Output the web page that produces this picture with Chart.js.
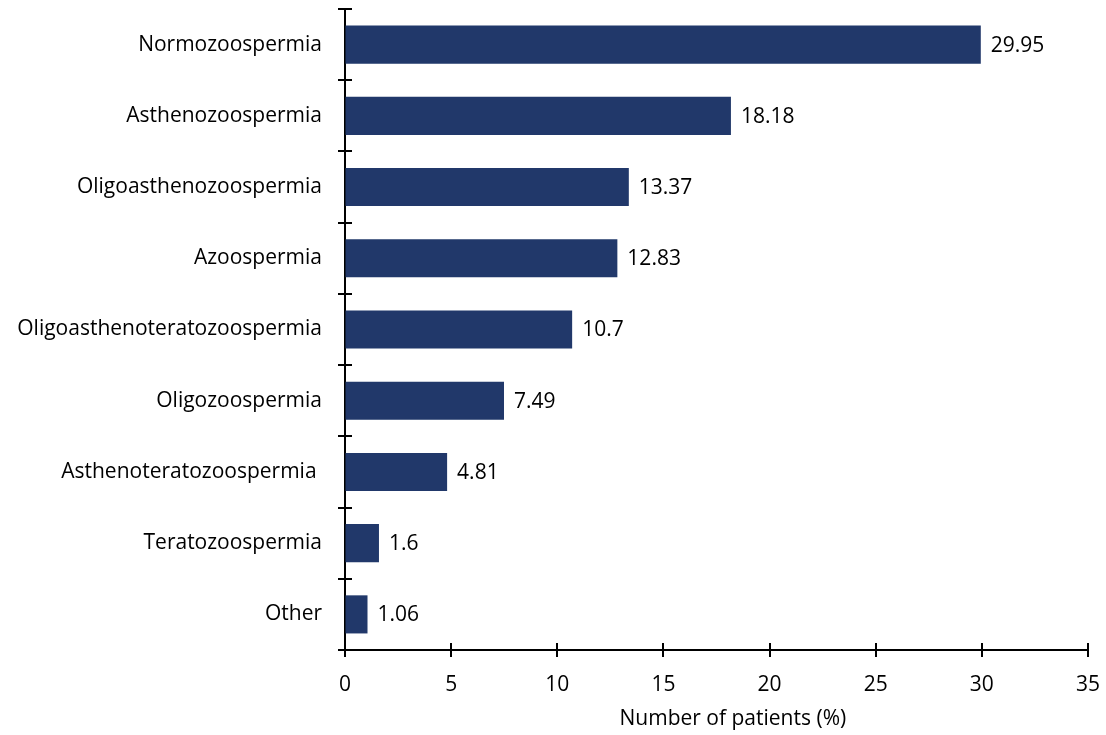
<!DOCTYPE html>
<html>
<head>
<meta charset="utf-8">
<script src="https://cdn.jsdelivr.net/npm/chart.js@4.4.1/dist/chart.umd.min.js"></script>
<style>
  html, body { margin: 0; padding: 0; background: #ffffff; }
  #wrap { width: 1106px; height: 735px; position: relative; }
</style>
</head>
<body>
<div id="wrap"><canvas id="chart" width="1106" height="735"></canvas></div>
<script>
// Semen analysis categories and share of patients (%)
const categories = [
  'Normozoospermia',
  'Asthenozoospermia',
  'Oligoasthenozoospermia',
  'Azoospermia',
  'Oligoasthenoteratozoospermia',
  'Oligozoospermia',
  'Asthenoteratozoospermia ',
  'Teratozoospermia',
  'Other'
];
const patientShare = [29.95, 18.18, 13.37, 12.83, 10.7, 7.49, 4.81, 1.6, 1.06];
const xTicks = [0, 5, 10, 15, 20, 25, 30, 35];
const xTitle = '      Number of patients (%)';

const FONT = "'Open Sans', sans-serif";
const FONT_SIZE = 21;
const BAR_COLOR = '#21386A';

// Tick marks that cross both axis lines
const crossTicks = {
  id: 'crossTicks',
  afterDraw(chart) {
    const ctx = chart.ctx;
    const xs = chart.scales.x, ys = chart.scales.y;
    const half = 7;
    ctx.save();
    ctx.strokeStyle = '#000';
    ctx.lineWidth = 2;
    ctx.beginPath();
    xs.ticks.forEach((t, i) => {
      const px = Math.round(xs.getPixelForTick(i));
      ctx.moveTo(px, ys.bottom - half);
      ctx.lineTo(px, ys.bottom + half);
    });
    const n = ys.ticks.length;
    for (let i = 0; i <= n; i++) {
      const py = Math.round(ys.getPixelForValue(i - 0.5));
      ctx.moveTo(xs.left - half, py);
      ctx.lineTo(xs.left + half, py);
    }
    ctx.stroke();
    ctx.restore();
  }
};

// Value labels at the end of each bar
const barValues = {
  id: 'barValues',
  afterDatasetsDraw(chart) {
    const ctx = chart.ctx;
    const meta = chart.getDatasetMeta(0);
    ctx.save();
    ctx.font = FONT_SIZE + 'px ' + FONT;
    ctx.fillStyle = '#000';
    ctx.textAlign = 'left';
    ctx.textBaseline = 'middle';
    meta.data.forEach((bar, i) => {
      ctx.fillText(String(patientShare[i]), bar.x + 10, bar.y + 1);
    });
    ctx.restore();
  }
};

new Chart(document.getElementById('chart'), {
  type: 'bar',
  data: {
    labels: categories,
    datasets: [{
      data: patientShare,
      backgroundColor: BAR_COLOR,
      borderWidth: 0,
      categoryPercentage: 1,
      barPercentage: 0.535
    }]
  },
  options: {
    indexAxis: 'y',
    responsive: false,
    animation: false,
    devicePixelRatio: 1,
    layout: { padding: { left: 0, right: 18, top: 9, bottom: 0 } },
    plugins: { legend: { display: false }, tooltip: { enabled: false } },
    scales: {
      x: {
        type: 'linear',
        min: 0,
        max: 35,
        afterBuildTicks(scale) { scale.ticks = xTicks.map(v => ({ value: v })); },
        afterFit(scale) { scale.height = 85; scale.paddingLeft = 0; scale.paddingRight = 0; },
        border: { display: true, color: '#000', width: 2 },
        grid: { display: true, drawOnChartArea: false, drawTicks: true, tickLength: 8, color: 'rgba(0,0,0,0)' },
        ticks: { color: '#000', font: { family: FONT, size: FONT_SIZE }, padding: 14 },
        title: { display: true, text: xTitle, color: '#000', font: { family: FONT, size: FONT_SIZE }, padding: { top: 4, bottom: 3 } }
      },
      y: {
        afterFit(scale) { scale.width = 345; scale.paddingTop = 0; scale.paddingBottom = 0; },
        border: { display: true, color: '#000', width: 2 },
        grid: { display: true, offset: true, drawOnChartArea: false, drawTicks: true, tickLength: 8, color: 'rgba(0,0,0,0)' },
        ticks: { color: '#000', font: { family: FONT, size: FONT_SIZE }, padding: 15 }
      }
    }
  },
  plugins: [crossTicks, barValues]
});
</script>
</body>
</html>
